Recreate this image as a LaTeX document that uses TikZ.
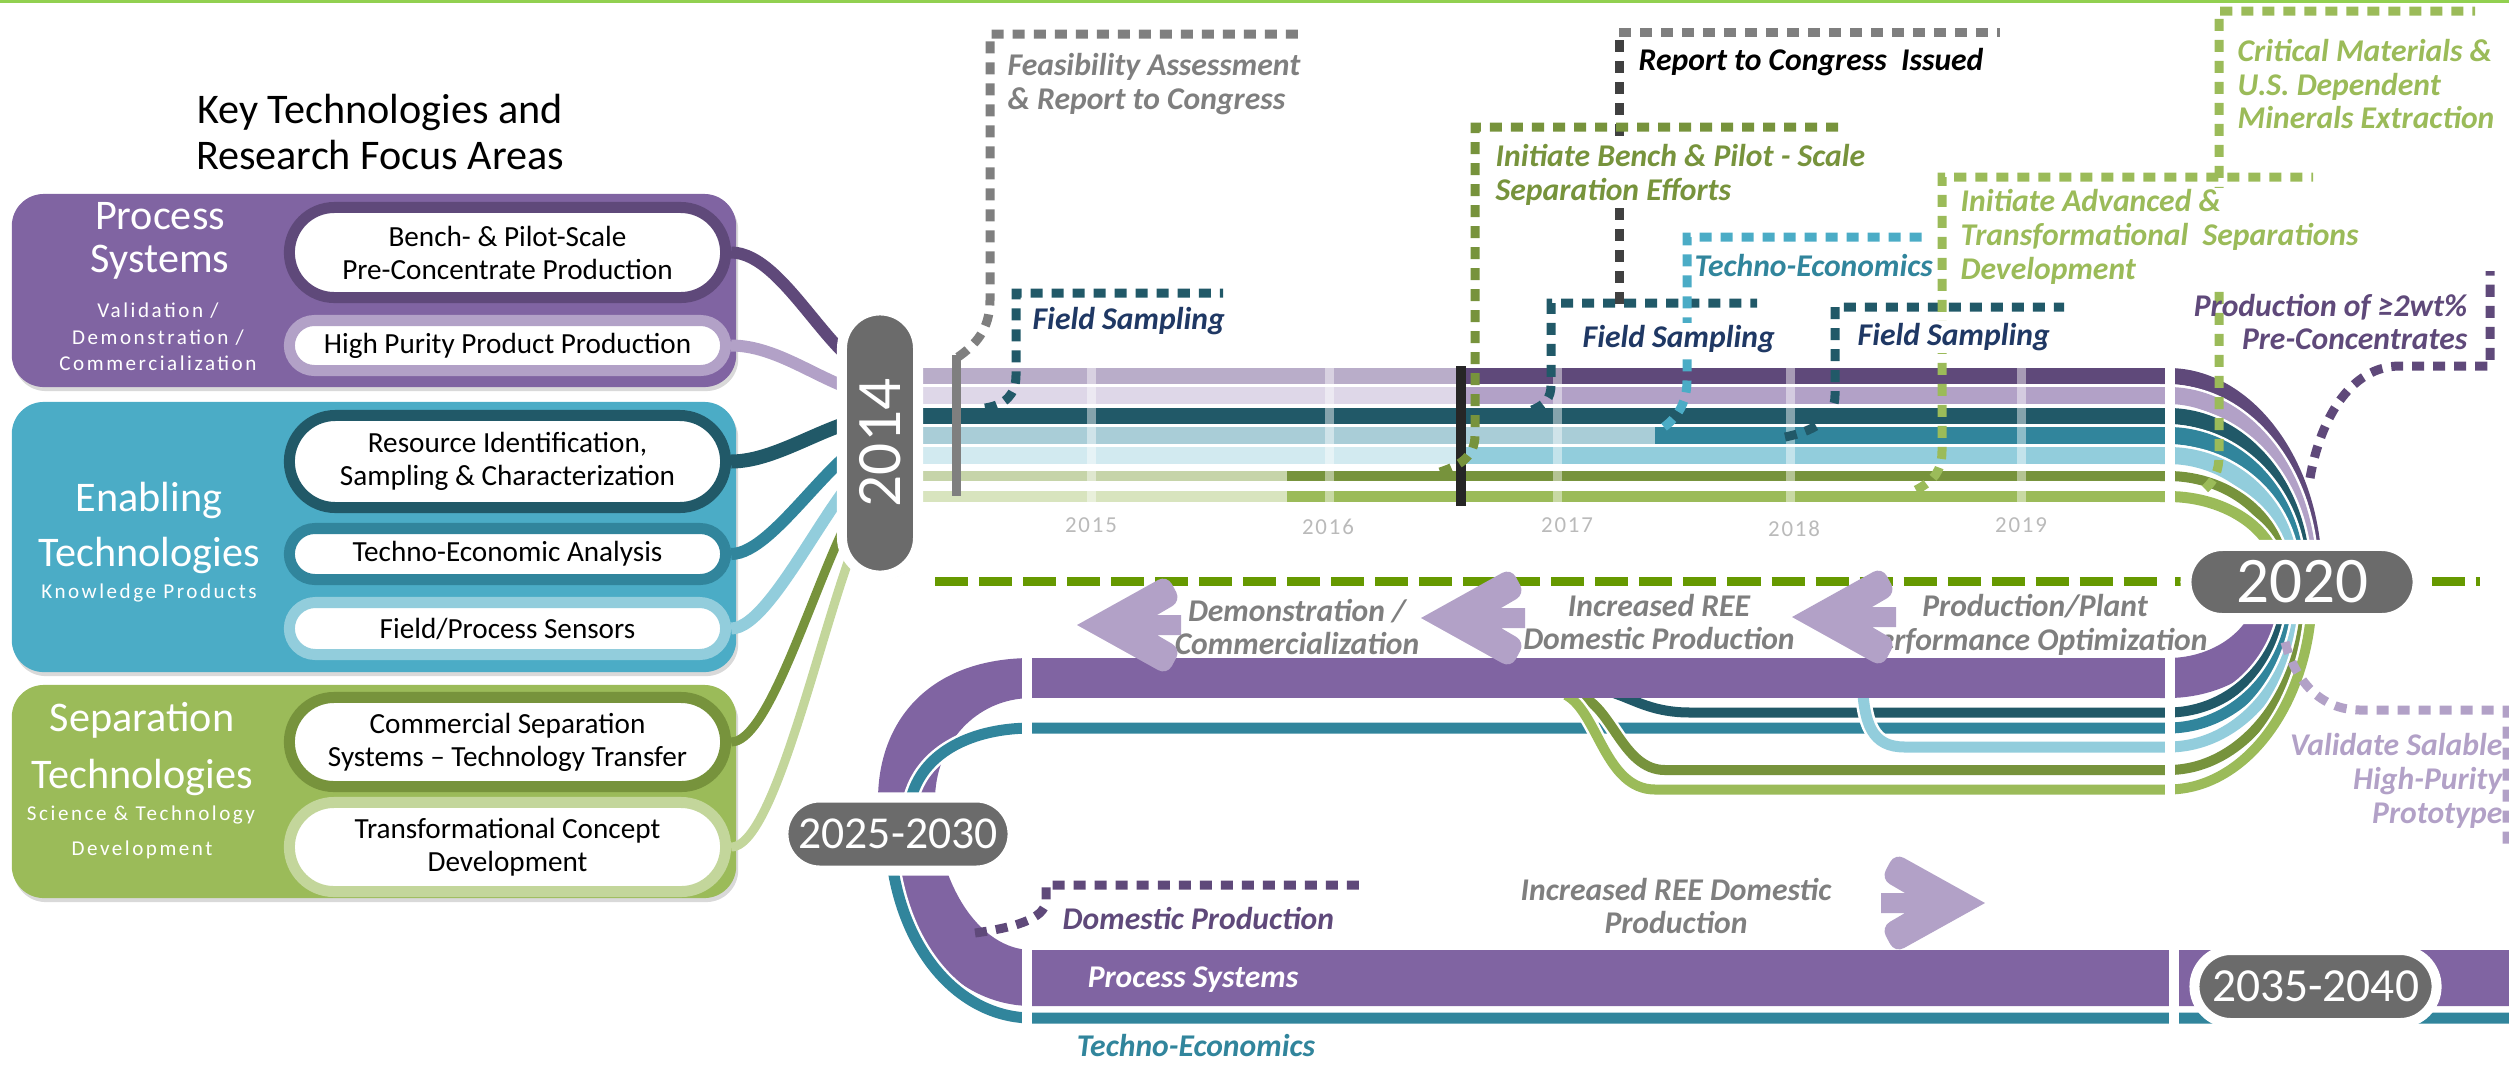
\documentclass[tikz,border=0pt]{standalone}
\usepackage{fontspec}
\setmainfont{Carlito}
\usetikzlibrary{shapes.misc, shadows, positioning}

\definecolor{psPurple}{HTML}{8064A2}
\definecolor{psDark}{HTML}{5F497A}
\definecolor{psLight}{HTML}{B2A1C7}
\definecolor{psDarkFade}{HTML}{B9ADC9}
\definecolor{psLightFade}{HTML}{DED7E8}
\definecolor{enBlue}{HTML}{4BACC6}
\definecolor{enDark}{HTML}{215968}
\definecolor{enTeal}{HTML}{31859C}
\definecolor{enTealFade}{HTML}{A9CDD7}
\definecolor{enLight}{HTML}{92CDDC}
\definecolor{enLightFade}{HTML}{D2EAF0}
\definecolor{stGreen}{HTML}{9BBB59}
\definecolor{stDark}{HTML}{77933C}
\definecolor{stLight}{HTML}{C3D69B}
\definecolor{stDarkFade}{HTML}{C6D4A9}
\definecolor{stGreenFade}{HTML}{D8E4BE}
\definecolor{yearGrey}{HTML}{6B6B6B}
\definecolor{noteGrey}{HTML}{7F7F7F}
\definecolor{navyText}{HTML}{1F3864}
\definecolor{dashGreen}{HTML}{669900}
\definecolor{topGreen}{HTML}{92D050}

\begin{document}
\begin{tikzpicture}[x=0.01cm, y=-0.01cm,
    % Node styles
    areabox/.style={
        rectangle, rounded corners=0.32cm, minimum width=7.24cm, inner sep=0pt,
        drop shadow={shadow xshift=0.02cm, shadow yshift=-0.04cm, opacity=0.3}
    },
    areatitle/.style={
        text=white, font=\fontsize{12}{9.3}\selectfont, align=center, inner sep=0pt
    },
    areasub/.style={
        text=white, font=\fontsize{6}{7.6}\selectfont\addfontfeature{LetterSpace=12},
        align=center, inner sep=0pt
    },
    itempill/.style={
        rounded rectangle, fill=white, line width=0.11cm, minimum width=4.36cm,
        inner sep=0pt, align=center, font=\fontsize{8.3}{9.4}\selectfont
    },
    yearpill/.style={
        rounded rectangle, fill=yearGrey, draw=white, line width=0.1cm,
        minimum height=0.73cm, inner sep=0pt, text=white,
        drop shadow={shadow xshift=0.02cm, shadow yshift=-0.04cm, opacity=0.25}
    },
    yearmark/.style={
        text=black!27, font=\fontsize{6.5}{8}\selectfont\addfontfeature{LetterSpace=8}
    },
    callout/.style={
        font=\fontsize{9}{9.6}\selectfont\bfseries\itshape, align=left, inner sep=0.02cm
    },
    steplabel/.style={
        font=\fontsize{9}{9.6}\selectfont\bfseries\itshape, text=noteGrey,
        align=center, inner sep=0pt
    },
    % Line styles
    dotline/.style={line width=0.09cm, dash pattern=on 0.12cm off 0.09cm},
    flow/.style={line width=#1},
    strand/.style={line width=#1, preaction={draw=white, line width=#1+0.05cm}},
    separator/.style={white, line width=0.1cm},
    backarrow/.pic={
        \fill[psLight] (0,0) [rounded corners=0.1cm] -- (90,-50) -- (104,-24)
            [sharp corners] -- (80,-10) -- (104,-10) -- (104,10) -- (80,10)
            [rounded corners=0.1cm] -- (104,24) -- (90,50) [sharp corners] -- cycle;
    }
]
\useasboundingbox (0,0) rectangle (2509,1066);
\fill[topGreen] (0,0) rectangle (2509,3);

% --- Left panel ---
\node[font=\fontsize{12}{12.8}\selectfont, align=center] (maintitle) at (380,132)
    {Key Technologies and\\Research Focus Areas};

\node[areabox, fill=psPurple, minimum height=1.93cm] (procbox) at (374,290.5) {};
\node[areabox, fill=enBlue, minimum height=2.70cm] (enbox) at (374,537) {};
\node[areabox, fill=stGreen, minimum height=2.13cm] (sepbox) at (374,791.5) {};

\node[areatitle] (proctitle) at (160,216) {Process};
\node[areatitle] (procsys) at (160,262) {Systems};
\node[areasub] (procsub) at (158,337) {Validation /\\Demonstration /\\Commercialization};
\node[areatitle] (entitle) at (149,500) {Enabling};
\node[areatitle] (entech) at (149,555) {Technologies};
\node[areasub] (ensub) at (149,593) {Knowledge Products};
\node[areatitle] (septitle) at (142,720) {Separation};
\node[areatitle] (septech) at (142,777) {Technologies};
\node[areasub] (sepsub) at (141,815) {Science \& Technology};
\node[areasub] (sepdev) at (142,850) {Development};

\node[itempill, draw=psDark, minimum height=0.9cm] (bench) at (507.5,252.5)
    {Bench- \& Pilot-Scale\\Pre-Concentrate Production};
\node[itempill, draw=psLight, minimum height=0.5cm] (purity) at (507.5,345.5)
    {High Purity Product Production};
\node[itempill, draw=enDark, minimum height=0.92cm] (resource) at (507.5,461.5)
    {Resource Identification,\\Sampling \& Characterization};
\node[itempill, draw=enTeal, minimum height=0.51cm] (techecon) at (507.5,554)
    {Techno-Economic Analysis};
\node[itempill, draw=enLight, minimum height=0.52cm] (sensors) at (507.5,628.5)
    {Field/Process Sensors};
\node[itempill, draw=stDark, minimum height=0.89cm] (commsep) at (507.5,742)
    {Commercial Separation\\Systems – Technology Transfer};
\node[itempill, draw=stLight, minimum height=0.89cm] (transform) at (507.5,847)
    {Transformational Concept\\Development};

% --- Connectors into 2014 ---
\coordinate (in1) at (885,376);
\coordinate (in2) at (885,395.5);
\coordinate (in3) at (885,416);
\coordinate (in4) at (885,435.5);
\coordinate (in5) at (885,455.5);
\coordinate (in6) at (885,476);
\coordinate (in7) at (885,496.5);

\draw[flow=0.09cm, stLight] (transform.east) .. controls +(55,0) and +(-40,0) .. (in7);
\draw[flow=0.09cm, stDark] (commsep.east) .. controls +(50,0) and +(-45,0) .. (in6);
\draw[flow=0.12cm, enLight] (sensors.east) .. controls +(45,0) and +(-40,0) .. (in5);
\draw[flow=0.12cm, enTeal] (techecon.east) .. controls +(45,0) and +(-45,0) .. (in4);
\draw[flow=0.14cm, enDark] (resource.east) .. controls +(50,0) and +(-50,0) .. (in3);
\draw[flow=0.12cm, psLight] (purity.east) .. controls +(55,0) and +(-50,0) .. (in2);
\draw[flow=0.12cm, psDark] (bench.east) .. controls +(55,0) and +(-50,0) .. (in1);

% --- Timeline bars 2014-2020 ---
\fill[psDarkFade] (880,368) rectangle (1461,384);
\fill[psDark] (1461,368) rectangle (2168,384);
\fill[psLightFade] (880,387) rectangle (1461,404);
\fill[psLight] (1461,387) rectangle (2168,404);
\fill[enDark] (880,408) rectangle (2168,424);
\fill[enTealFade] (880,427) rectangle (1655,444);
\fill[enTeal] (1655,427) rectangle (2168,444);
\fill[enLightFade] (880,447) rectangle (1461,464);
\fill[enLight] (1461,447) rectangle (2168,464);
\fill[stDarkFade] (880,471) rectangle (1287,481);
\fill[stDark] (1287,471) rectangle (2168,481);
\fill[stGreenFade] (880,491) rectangle (1287,502);
\fill[stGreen] (1287,491) rectangle (2168,502);

\draw[white, opacity=0.45, line width=0.09cm] (1091,366) -- (1091,504);
\draw[white, opacity=0.45, line width=0.09cm] (1329,366) -- (1329,504);
\draw[white, opacity=0.45, line width=0.09cm] (1557,366) -- (1557,504);
\draw[white, opacity=0.45, line width=0.09cm] (1790,366) -- (1790,504);
\draw[white, opacity=0.45, line width=0.09cm] (2021,366) -- (2021,504);

\node[yearmark] (t2015) at (1091,525) {2015};
\node[yearmark] (t2016) at (1328,527) {2016};
\node[yearmark] (t2017) at (1567,525) {2017};
\node[yearmark] (t2018) at (1794,529) {2018};
\node[yearmark] (t2019) at (2021,525) {2019};

\draw[noteGrey, line width=0.09cm] (956,355) -- (956,496);
\draw[black!85, line width=0.1cm] (1461,366) -- (1461,506);

% --- Turn at 2020, upper half ---
\draw[strand=0.16cm, psDark] (2160,376) -- (2168,376) .. controls (2248,376) and (2314,466) .. (2314,575) -- (2314,600);
\draw[strand=0.17cm, psLight] (2160,395.5) -- (2168,395.5) .. controls (2245,395.5) and (2308,476) .. (2308,575) -- (2308,600);
\draw[strand=0.16cm, enDark] (2160,416) -- (2168,416) .. controls (2242,416) and (2302,488) .. (2302,575) -- (2302,600);
\draw[strand=0.17cm, enTeal] (2160,435.5) -- (2168,435.5) .. controls (2238,435.5) and (2296,498) .. (2296,575) -- (2296,600);
\draw[strand=0.17cm, enLight] (2160,455.5) -- (2168,455.5) .. controls (2235,455.5) and (2290,509) .. (2290,575) -- (2290,600);
\draw[strand=0.1cm, stDark] (2160,476) -- (2168,476) .. controls (2232,476) and (2284,521) .. (2284,575) -- (2284,600);
\draw[strand=0.11cm, stGreen] (2160,496.5) -- (2168,496.5) .. controls (2228,496.5) and (2278,532) .. (2278,575) -- (2278,600);

% --- Turn at 2020, lower half ---
\draw[strand=0.4cm, psPurple] (2276,570) -- (2276,590) .. controls (2276,638) and (2227,678) .. (2168,678) -- (2160,678);
\draw[strand=0.1cm, enDark] (2286,570) -- (2286,590) .. controls (2286,657) and (2233,712.5) .. (2168,712.5) -- (2160,712.5);
\draw[strand=0.11cm, enTeal] (2294,570) -- (2294,590) .. controls (2294,666) and (2237,728) .. (2168,728) -- (2160,728);
\draw[strand=0.11cm, enLight] (2300,570) -- (2300,590) .. controls (2300,676) and (2241,747) .. (2168,747) -- (2160,747);
\draw[strand=0.1cm, stDark] (2306,570) -- (2306,590) .. controls (2306,689) and (2244,770) .. (2168,770) -- (2160,770);
\draw[strand=0.1cm, stGreen] (2312,570) -- (2312,590) .. controls (2312,700) and (2247,789.5) .. (2168,789.5) -- (2160,789.5);

% --- Return leg and turn at 2025-2030 ---
\fill[psPurple] (1032,658) .. controls (930,658) and (878,720) .. (878,800)
    .. controls (878,915) and (945,1006) .. (1032,1006) -- (2509,1006) -- (2509,950)
    -- (1032,950) .. controls (978,950) and (935,880) .. (935,800)
    .. controls (935,745) and (975,698) .. (1032,698) -- cycle;
\draw[strand=0.11cm, enTeal] (2168,728) -- (1032,728) .. controls (972,728) and (925,752) .. (912,795)
    -- (890,845) .. controls (898,950) and (960,1018) .. (1032,1018) -- (2509,1018);

\draw[strand=0.1cm, enDark] (1588,688) .. controls (1625,690) and (1640,712.5) .. (1690,712.5) -- (2168,712.5);
\draw[strand=0.11cm, enLight] (1862,680) .. controls (1864,725) and (1872,747) .. (1905,747) -- (2168,747);
\draw[strand=0.1cm, stDark] (1578,695) .. controls (1612,705) and (1622,770) .. (1665,770) -- (2168,770);
\draw[strand=0.1cm, stGreen] (1566,695) .. controls (1598,712) and (1605,789.5) .. (1655,789.5) -- (2168,789.5);
\fill[psPurple] (1030,658) rectangle (2168,698);

% --- 2020 divider and separators ---
\draw[dashGreen, line width=0.09cm, dash pattern=on 0.33cm off 0.11cm] (935,581) -- (2480,581);
\draw[separator] (1027,655) -- (1027,1036);
\draw[separator] (2170,354) -- (2170,802);
\draw[separator] (2174,940) -- (2174,1034);

% --- Direction arrows and labels ---
\node[steplabel] (demo) at (1297,627) {Demonstration /\\Commercialization};
\node[steplabel] (incr) at (1659,622) {Increased REE\\Domestic Production};
\node[steplabel] (optim) at (2035,625) {Production/Plant\\Performance Optimization};
\node[steplabel] (incrlow) at (1676,906) {Increased REE Domestic\\Production};

\pic at (1077,625) {backarrow};
\pic at (1421,618) {backarrow};
\pic at (1792,617) {backarrow};
\pic[xscale=-1] at (1985,903) {backarrow};

\node[callout, text=white] (pslabel) at (1193,980) {Process Systems};
\node[callout, text=enTeal] (telabel) at (1196,1045) {Techno-Economics};

% --- Milestone callouts ---
\draw[dotline, noteGrey] (958,357) .. controls (975,345) and (990,330) .. (990,300) -- (990,34) -- (1303,34);
\draw[dotline, enDark] (985,408) .. controls (1005,405) and (1016,395) .. (1016,375) -- (1016,293) -- (1223,293);
\draw[dotline, enDark] (1532,410) .. controls (1545,405) and (1551,398) .. (1551,385) -- (1551,303) -- (1757,303);
\draw[dotline, enDark] (1785,437) .. controls (1820,430) and (1835,415) .. (1835,395) -- (1835,307) -- (2064,307);
\draw[dotline, enBlue] (1664,427) .. controls (1680,415) and (1687,400) .. (1687,380) -- (1687,237) -- (1922,237);
\draw[dotline, black!75] (1619,304) -- (1619,32);
\draw[dotline, noteGrey] (1619,32) -- (2000,32);
\draw[dotline, stDark] (1440,472) .. controls (1462,465) and (1475,455) .. (1475,435) -- (1475,127) -- (1846,127);
\draw[dotline, stGreen] (1916,490) .. controls (1935,480) and (1942,470) .. (1942,450) -- (1942,177) -- (2313,177);
\draw[dotline, stGreen] (2205,489) .. controls (2215,480) and (2219,470) .. (2219,455) -- (2219,11) -- (2475,11);
\draw[dotline, psDark] (2310,478) .. controls (2320,420) and (2350,366) .. (2400,366) -- (2490,366) -- (2490,271);
\draw[dotline, psLight] (2285,642) .. controls (2295,680) and (2320,710) .. (2360,710) -- (2507,710) -- (2507,845);
\draw[dotline, psDark] (975,933) .. controls (1010,928) and (1046,920) .. (1046,900) -- (1046,885) -- (1362,885);

\node[callout, text=noteGrey, anchor=west] (feas) at (1005,84) {Feasibility Assessment\\\& Report to Congress};
\node[callout, text=navyText, fill=white, anchor=west] (field1) at (1030,321) {Field Sampling};
\node[callout, text=navyText, fill=white, anchor=west] (field2) at (1580,339) {Field Sampling};
\node[callout, text=navyText, fill=white, anchor=west] (field3) at (1855,337) {Field Sampling};
\node[callout, text=enTeal, anchor=west] (techno) at (1692,266) {Techno-Economics};
\node[callout, text=black, anchor=west] (report) at (1636,62) {Report to Congress~ Issued};
\node[callout, text=stDark, fill=white, anchor=west] (benchnote) at (1493,175)
    {Initiate Bench \& Pilot - Scale\\Separation Efforts};
\node[callout, text=stGreen, fill=white, anchor=west] (advnote) at (1958,237)
    {Initiate Advanced \&\\Transformational~ Separations\\Development};
\node[callout, text=stGreen, anchor=west] (critnote) at (2235,84)
    {Critical Materials \&\\U.S. Dependent\\Minerals Extraction};
\node[callout, text=psDark, anchor=east, align=right] (prodnote) at (2470,322)
    {Production of ≥2wt\%\\Pre-Concentrates};
\node[callout, text=psLight, anchor=east, align=right] (valnote) at (2505,781)
    {Validate Salable\\High-Purity\\Prototype};
\node[callout, text=psDark, anchor=west] (domnote) at (1060,918) {Domestic Production};

% --- Year markers ---
\node[yearpill, rotate=90, minimum width=2.65cm, minimum height=0.76cm,
    font=\fontsize{18}{18}\selectfont] (y2014) at (880,443) {2014};
\node[yearpill, minimum width=2.32cm, line width=0.11cm,
    font=\fontsize{18.5}{18.5}\selectfont] (y2020) at (2302,582) {2020};
\node[yearpill, minimum width=2.29cm, font=\fontsize{13}{13}\selectfont] (y2025) at (898,834) {2025-2030};
\node[yearpill, minimum width=2.42cm, font=\fontsize{13.5}{13.5}\selectfont] (y2035) at (2315.5,986.5) {2035-2040};

\end{tikzpicture}
\end{document}
